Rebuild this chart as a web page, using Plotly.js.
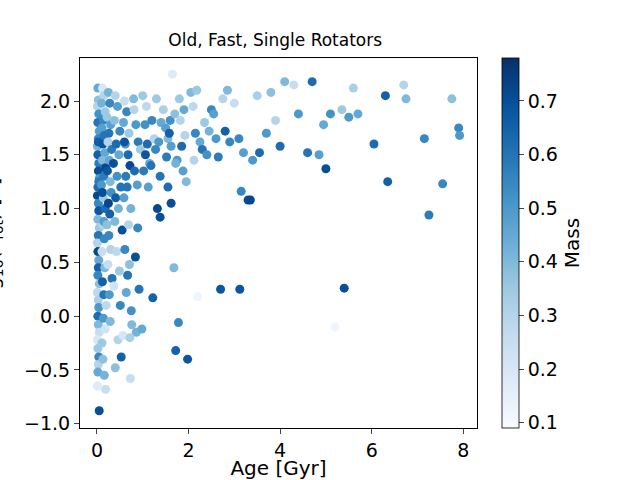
<!DOCTYPE html>
<html><head><meta charset="utf-8">
<script src="https://cdn.plot.ly/plotly-3.0.1.min.js"></script>
<style>body{margin:0}</style></head><body>
<div id="plot" style="width:640px;height:480px"></div>
<script>
// age [Gyr], log10 period [d], stellar mass [Msun]
var age = [
0.02,0.03,0.01,0.04,0.02,0.05,0.03,0.01,0.02,0.04,0.03,0.05,0.02,0.01,0.03,0.04,0.02,0.05,0.03,0.01,
0.02,0.04,0.03,0.02,0.05,0.01,0.03,0.04,0.02,0.03,0.05,0.01,0.02,0.04,0.03,0.02,0.01,0.05,0.03,0.04,
0.12,0.15,0.10,0.18,0.14,0.11,0.16,0.13,0.17,0.12,0.19,0.15,0.10,0.14,0.18,0.13,0.16,0.11,0.17,0.12,
0.15,0.20,0.14,0.18,0.11,0.13,0.16,0.19,0.12,0.15,
0.25,0.28,0.22,0.30,0.26,0.24,0.32,0.27,0.23,0.29,0.31,0.25,0.28,0.22,0.26,0.30,0.24,0.33,0.27,0.29,
0.40,0.45,0.38,0.50,0.42,0.48,0.36,0.44,0.52,0.41,0.47,0.39,0.55,0.43,0.49,0.37,0.51,0.46,0.40,0.53,
0.60,0.65,0.58,0.70,0.62,0.68,0.72,0.63,0.66,0.59,0.74,0.69,0.61,0.71,0.67,0.64,0.75,0.57,0.73,0.60,
0.80,0.85,0.90,0.82,0.88,0.95,0.84,0.92,0.86,0.98,0.81,0.89,
1.00,1.05,1.10,1.15,1.02,1.08,1.20,1.12,1.25,1.18,1.30,1.06,1.35,1.22,1.40,1.28,1.45,1.32,1.38,1.50,
1.55,1.60,1.65,1.52,1.70,1.58,1.75,1.62,1.80,1.68,1.85,1.72,1.90,1.78,1.95,1.82,1.88,1.98,
2.05,2.10,2.15,2.20,2.25,2.30,2.35,2.40,2.12,2.45,2.50,2.55,2.60,2.18,2.65,2.70,2.75,2.80,2.85,2.90,
3.0,3.1,3.15,3.2,3.3,3.4,3.5,3.55,3.7,3.8,3.9,4.0,4.1,4.3,4.4,4.6,4.7,4.85,4.95,5.0,5.1,5.2,5.35,5.4,5.5,5.6,5.7,
6.05,6.3,6.35,6.7,6.75,7.15,7.25,7.55,7.75,7.9,7.92,3.12,3.35,1.62,1.55,1.72,1.92,0.72,0.76,1.38
];
var logP = [
2.12,2.01,1.95,1.88,1.80,1.72,1.65,1.58,1.50,1.42,1.35,1.28,1.20,1.12,1.05,0.98,0.90,0.82,0.75,0.68,
0.60,0.52,0.45,0.38,0.30,0.22,0.15,0.08,0.00,-0.08,-0.15,-0.22,-0.30,-0.38,-0.45,-0.52,-0.65,-0.88,1.62,1.25,
2.12,2.05,1.98,1.90,1.82,1.75,1.68,1.60,1.52,1.45,1.38,1.30,1.22,1.10,1.00,0.85,0.72,0.60,0.45,0.32,
0.20,0.10,-0.02,-0.12,-0.25,-0.40,-0.55,-0.68,1.15,0.88,
2.08,1.98,1.85,1.78,1.70,1.62,1.55,1.45,1.35,1.25,1.15,1.05,0.95,0.85,0.75,0.62,0.48,0.35,0.20,-0.05,
2.05,1.95,1.82,1.72,1.60,1.50,1.42,1.30,1.20,1.10,1.00,0.88,0.80,0.60,0.42,0.28,0.10,-0.22,-0.48,-0.38,
2.00,1.90,1.80,1.70,1.60,1.50,1.40,1.30,1.20,1.10,1.00,0.85,0.62,0.48,0.38,0.22,0.05,-0.18,-0.58,1.62,
2.02,1.78,1.62,1.35,1.22,1.55,0.55,0.25,-0.15,-0.12,1.92,0.82,
2.05,1.78,1.60,1.42,1.35,1.95,1.82,1.20,1.65,1.40,2.02,1.50,1.62,0.17,1.80,1.55,1.92,1.00,0.92,1.75,
1.65,1.82,2.25,1.48,1.88,1.70,1.45,1.05,2.02,0.45,1.58,-0.32,1.92,-0.06,1.25,1.82,1.35,-0.40,
2.08,1.95,1.70,0.18,1.62,1.55,1.80,1.50,1.45,1.72,1.92,1.88,1.65,2.10,1.48,0.25,2.02,1.72,2.10,1.62,
1.98,1.65,1.16,1.52,1.08,1.45,2.05,1.52,1.70,2.08,1.82,1.58,2.18,2.15,1.88,1.52,2.18,1.50,1.78,1.37,1.88,-0.1,1.92,0.26,1.85,2.12,1.88,
1.60,2.05,1.25,2.15,2.02,1.65,0.94,1.23,2.02,1.75,1.68,0.25,1.08,1.58,1.20,1.42,1.68,-0.20,-0.08,1.30
];
var mass = [
0.45,0.38,0.30,0.52,0.60,0.48,0.55,0.42,0.65,0.58,0.70,0.50,0.62,0.72,0.55,0.68,0.40,0.35,0.60,0.30,
0.72,0.45,0.65,0.55,0.38,0.28,0.32,0.50,0.62,0.40,0.25,0.20,0.35,0.55,0.30,0.45,0.18,0.70,0.66,0.58,
0.20,0.30,0.42,0.35,0.55,0.48,0.60,0.68,0.45,0.40,0.72,0.58,0.50,0.35,0.62,0.30,0.55,0.25,0.40,0.65,
0.60,0.28,0.50,0.22,0.35,0.38,0.42,0.25,0.70,0.48,
0.42,0.55,0.35,0.48,0.60,0.30,0.58,0.45,0.68,0.40,0.52,0.72,0.65,0.38,0.55,0.30,0.25,0.60,0.50,0.40,
0.30,0.48,0.38,0.55,0.62,0.45,0.70,0.52,0.60,0.66,0.42,0.40,0.70,0.28,0.35,0.22,0.55,0.30,0.38,0.65,
0.25,0.55,0.45,0.35,0.50,0.62,0.72,0.58,0.60,0.48,0.42,0.30,0.55,0.38,0.60,0.45,0.52,0.20,0.25,0.68,
0.40,0.50,0.58,0.62,0.48,0.35,0.70,0.60,0.42,0.45,0.30,0.55,
0.35,0.52,0.62,0.45,0.58,0.28,0.55,0.48,0.30,0.60,0.35,0.68,0.50,0.65,0.45,0.55,0.32,0.72,0.70,0.48,
0.40,0.52,0.18,0.58,0.38,0.65,0.50,0.70,0.35,0.40,0.62,0.65,0.45,0.55,0.40,0.30,0.48,0.68,
0.40,0.28,0.55,0.12,0.45,0.60,0.35,0.52,0.30,0.42,0.55,0.48,0.50,0.35,0.58,0.68,0.30,0.65,0.40,0.55,
0.25,0.55,0.55,0.48,0.70,0.50,0.32,0.62,0.50,0.38,0.30,0.62,0.40,0.25,0.50,0.60,0.62,0.48,0.45,0.70,0.52,0.12,0.35,0.70,0.50,0.32,0.45,
0.62,0.65,0.65,0.30,0.40,0.55,0.58,0.55,0.38,0.55,0.50,0.68,0.72,0.48,0.62,0.42,0.30,0.32,0.40,0.60
];

var blues = [[0,'#f7fbff'],[0.125,'#deebf7'],[0.25,'#c6dbef'],[0.375,'#9ecae1'],[0.5,'#6baed6'],
  [0.625,'#4292c6'],[0.75,'#2171b5'],[0.875,'#08519c'],[1,'#08306b']];

var trace = {
  type: 'scatter', mode: 'markers', x: age, y: logP,
  marker: {
    size: 9, color: mass, colorscale: blues, cmin: 0.09, cmax: 0.78,
    colorbar: {
      x: 1.063, xanchor: 'left', xpad: 0, ypad: 0, y: 0, yanchor: 'bottom', len: 1, thickness: 17,
      outlinewidth: 0.8, outlinecolor: '#000', ticks: 'outside', ticklen: 5,
      tickvals: [0.1,0.2,0.3,0.4,0.5,0.6,0.7], tickfont: {size: 19, color: '#000'},
      title: {text: 'Mass', side: 'right', font: {size: 20, color: '#000'}}
    }
  }
};

var layout = {
  width: 640, height: 480,
  margin: {l: 80, r: 163, t: 58, b: 52},
  paper_bgcolor: '#fff', plot_bgcolor: '#fff',
  font: {family: 'DejaVu Sans', color: '#000'},
  title: {text: 'Old, Fast, Single Rotators', font: {size: 17}, x: 0.43, xanchor: 'center', y: 0.93},
  xaxis: {
    range: [-0.37, 8.3], showgrid: false, zeroline: false, showline: true, mirror: true,
    linecolor: '#000', linewidth: 1, ticks: 'outside', ticklen: 5,
    tickvals: [0,2,4,6,8], tickfont: {size: 19},
    title: {text: 'Age [Gyr]', font: {size: 20}, standoff: 14}
  },
  yaxis: {
    range: [-1.04, 2.4], showgrid: false, zeroline: false, showline: true, mirror: true,
    linecolor: '#000', linewidth: 1, ticks: 'outside', ticklen: 5,
    tickvals: [-1,-0.5,0,0.5,1,1.5,2], ticktext: ['−1.0','−0.5','0.0','0.5','1.0','1.5','2.0'],
    tickfont: {size: 19}
  },
  annotations: [{
    text: 'log<sub>10</sub>(P<sub>rot</sub>) [d]', xref: 'paper', yref: 'paper',
    x: -0.22, y: 0.5, xanchor: 'center', yanchor: 'middle', textangle: -90,
    showarrow: false, font: {size: 20}
  }],
  showlegend: false
};

Plotly.newPlot('plot', [trace], layout, {displayModeBar: false});
</script>
</body></html>
